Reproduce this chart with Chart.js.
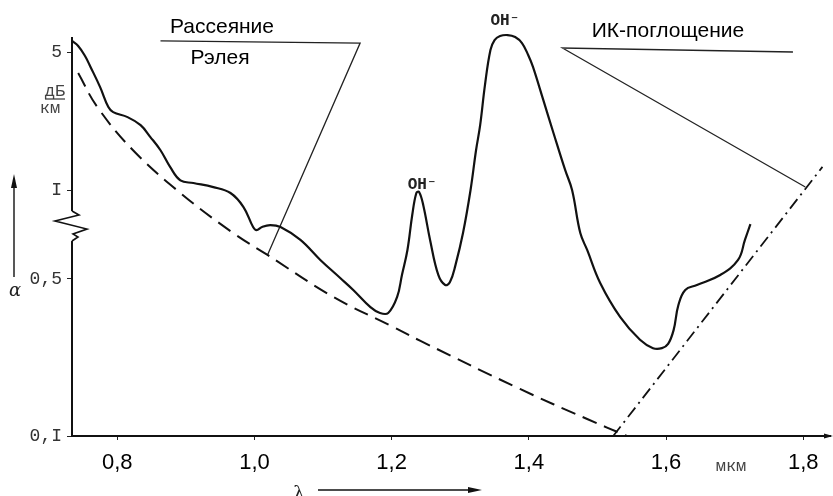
<!DOCTYPE html>
<html>
<head>
<meta charset="utf-8">
<script src="https://cdn.jsdelivr.net/npm/chart.js@4/dist/chart.umd.min.js"></script>
<style>
  body { margin: 0; background: #fff; }
  #wrap { width: 833px; height: 496px; }
</style>
</head>
<body>
<div id="wrap"><canvas id="myChart"></canvas></div>
<script>
// total loss of the fibre, dB/km
const lossX = [0.734, 0.743, 0.753, 0.761, 0.775, 0.787, 0.794, 0.815, 0.834, 0.848, 0.863, 0.877, 0.892, 0.911, 0.940,
  0.965, 0.984, 0.998, 1.003, 1.011, 1.023, 1.038, 1.067, 1.096, 1.125, 1.144, 1.169, 1.183, 1.195, 1.208,
  1.215, 1.223, 1.230, 1.236, 1.240, 1.246, 1.256, 1.268, 1.278, 1.285, 1.293, 1.304, 1.315, 1.323, 1.329,
  1.336, 1.344, 1.350, 1.358, 1.369, 1.380, 1.390, 1.399, 1.406, 1.421, 1.436, 1.453, 1.463, 1.475, 1.485,
  1.504, 1.533, 1.562, 1.581, 1.594, 1.603, 1.611, 1.618, 1.628, 1.645, 1.679, 1.705, 1.715, 1.723];
const lossY = [5.70, 5.37, 4.77, 4.20, 3.32, 2.63, 2.48, 2.34, 2.13, 1.86, 1.59, 1.31, 1.12, 1.085, 1.035,
  0.977, 0.876, 0.750, 0.732, 0.750, 0.761, 0.750, 0.678, 0.580, 0.504, 0.447, 0.375, 0.353, 0.353, 0.416,
  0.516, 0.627, 0.823, 0.977, 0.985, 0.890, 0.678, 0.516, 0.470, 0.485, 0.557, 0.715, 1.0, 1.59, 2.13,
  3.40, 5.12, 5.76, 6.04, 6.11, 5.97, 5.56, 4.83, 4.20, 2.86, 1.94, 1.26, 1.0, 0.715, 0.627,
  0.480, 0.339, 0.268, 0.246, 0.246, 0.257, 0.296, 0.383, 0.447, 0.470, 0.516, 0.580, 0.678, 0.767];

// Rayleigh scattering (dashed)
const rayleighX = [0.743, 0.771, 0.823, 0.892, 0.969, 1.019, 1.115, 1.202, 1.242, 1.387, 1.485, 1.543];
const rayleighY = [3.91, 2.63, 1.59, 0.977, 0.715, 0.603, 0.416, 0.306, 0.265, 0.162, 0.119, 0.1];

// IR absorption (dash-dot)
const irX = [1.523, 1.828];
const irY = [0.1, 1.31];

// leader lines of the two captions
const rayleighLeadX = [0.863, 1.154, 1.019];
const rayleighLeadY = [5.70, 5.56, 0.603];
const irLeadX = [1.785, 1.449, 1.803];
const irLeadY = [5.0, 5.24, 1.036];

const xTicks = [0.8, 1.0, 1.2, 1.4, 1.6, 1.8];
const xTickLabels = ['0,8', '1,0', '1,2', '1,4', '1,6', '1,8'];
const yTicks = [0.1, 0.5, 1, 5];
const yTickLabels = ['0,I', '0,5', 'I', '5'];

// the original axis is broken between 0,5 and I, so the log scale is piecewise
const yKnots = [0.1, 0.5, 1, 5, 5.9];
const yKnotPos = [0, 0.3945, 0.618, 0.9648, 1];

class BrokenLogScale extends Chart.LogarithmicScale {
  getPixelForValue(value) {
    const lk = yKnots.map(Math.log10);
    const lv = Math.log10(value);
    let i = 0;
    while (i < lk.length - 2 && lv > lk[i + 1]) i++;
    const t = (lv - lk[i]) / (lk[i + 1] - lk[i]);
    return this.getPixelForDecimal(yKnotPos[i] + t * (yKnotPos[i + 1] - yKnotPos[i]));
  }
  getValueForPixel(pixel) {
    const lk = yKnots.map(Math.log10);
    const d = this.getDecimalForPixel(pixel);
    let i = 0;
    while (i < yKnotPos.length - 2 && d > yKnotPos[i + 1]) i++;
    const t = (d - yKnotPos[i]) / (yKnotPos[i + 1] - yKnotPos[i]);
    return Math.pow(10, lk[i] + t * (lk[i + 1] - lk[i]));
  }
}
BrokenLogScale.id = 'brokenLog';
BrokenLogScale.defaults = Chart.LogarithmicScale.defaults;
Chart.register(BrokenLogScale);

const pts = (xs, ys) => xs.map((x, i) => ({ x: x, y: ys[i] }));

const sans = "'Liberation Sans', Arial, sans-serif";
const mono = "'Liberation Mono', 'DejaVu Sans Mono', monospace";

function arrowHead(ctx, x, y, dir, len, w) {
  ctx.beginPath();
  if (dir === 'up') {
    ctx.moveTo(x, y); ctx.lineTo(x - w, y + len); ctx.lineTo(x + w, y + len);
  } else {
    ctx.moveTo(x, y); ctx.lineTo(x - len, y - w); ctx.lineTo(x - len, y + w);
  }
  ctx.closePath();
  ctx.fill();
}

const decorations = {
  id: 'decorations',
  afterDraw(chart) {
    const { ctx, chartArea: { left, right, bottom }, scales: { x, y } } = chart;
    ctx.save();
    ctx.fillStyle = '#000';
    ctx.strokeStyle = '#111';

    // captions
    ctx.font = '21px ' + sans;
    ctx.textAlign = 'center';
    ctx.textBaseline = 'alphabetic';
    ctx.fillText('Рассеяние', 222, 33);
    ctx.fillText('Рэлея', 220, 64);
    ctx.fillText('ИК-поглощение', 668, 37);

    ctx.font = 'bold 16px ' + mono;
    ctx.fillStyle = '#222';
    ctx.fillText('OH⁻', x.getPixelForValue(1.365), 25);
    ctx.fillText('OH⁻', x.getPixelForValue(1.240) + 3, y.getPixelForValue(1.0) - 1);

    // units
    ctx.fillStyle = '#444';
    ctx.font = '17px ' + mono;
    ctx.fillText('мкм', 731, 471);
    ctx.fillText('дБ', 55, 96);
    ctx.fillText('км', 50, 113);
    ctx.strokeStyle = '#333';
    ctx.lineWidth = 1.2;
    ctx.beginPath(); ctx.moveTo(45, 99); ctx.lineTo(65, 99); ctx.stroke();

    // axis break on the y axis
    const yb = y.getPixelForValue(1) + 21;
    ctx.fillStyle = '#fff';
    ctx.fillRect(left - 2, yb, 4, 30);
    ctx.strokeStyle = '#111';
    ctx.lineWidth = 1.6;
    ctx.beginPath();
    ctx.moveTo(left, yb);
    ctx.lineTo(left + 7, yb + 4);
    ctx.lineTo(left - 17, yb + 10);
    ctx.lineTo(left + 15, yb + 18);
    ctx.lineTo(left + 1, yb + 23);
    ctx.lineTo(left + 6, yb + 26);
    ctx.lineTo(left, yb + 30);
    ctx.stroke();

    // x axis arrow
    ctx.fillStyle = '#111';
    arrowHead(ctx, right + 3, bottom, 'right', 9, 2.5);

    // alpha arrow
    ctx.lineWidth = 1.4;
    ctx.beginPath(); ctx.moveTo(14, 277); ctx.lineTo(14, 180); ctx.stroke();
    arrowHead(ctx, 14, 174, 'up', 14, 3);
    ctx.font = 'italic 18px ' + "'DejaVu Serif', serif";
    ctx.fillStyle = '#222';
    ctx.fillText('α', 15, 296);

    // lambda arrow
    ctx.beginPath(); ctx.moveTo(318, 490); ctx.lineTo(470, 490); ctx.stroke();
    ctx.fillStyle = '#111';
    arrowHead(ctx, 482, 490, 'right', 14, 3);
    ctx.fillStyle = '#222';
    ctx.font = '18px ' + "'DejaVu Serif', serif";
    ctx.fillText('λ', 299, 499);

    ctx.restore();
  }
};

const data = {
  datasets: [{
    label: 'Потери',
    data: pts(lossX, lossY),
    borderColor: '#111',
    borderWidth: 2.2,
    pointRadius: 0,
    tension: 0.4,
    clip: false
  }, {
    label: 'Рассеяние Рэлея',
    data: pts(rayleighX, rayleighY),
    borderColor: '#111',
    borderWidth: 2,
    borderDash: [15, 8],
    pointRadius: 0,
    tension: 0.4,
    clip: false
  }, {
    label: 'ИК-поглощение',
    data: pts(irX, irY),
    borderColor: '#111',
    borderWidth: 1.8,
    borderDash: [12, 5, 2, 5],
    pointRadius: 0,
    clip: false
  }, {
    label: 'lead1',
    data: pts(rayleighLeadX, rayleighLeadY),
    borderColor: '#222',
    borderWidth: 1.3,
    pointRadius: 0,
    tension: 0,
    clip: false
  }, {
    label: 'lead2',
    data: pts(irLeadX, irLeadY),
    borderColor: '#222',
    borderWidth: 1.3,
    pointRadius: 0,
    tension: 0,
    clip: false
  }]
};

const config = {
  type: 'line',
  data: data,
  options: {
    responsive: true,
    maintainAspectRatio: false,
    animation: false,
    events: [],
    layout: { padding: { left: 0, right: 3, top: 38, bottom: 0 } },
    plugins: { legend: { display: false }, tooltip: { enabled: false } },
    scales: {
      x: {
        type: 'linear',
        min: 0.734,
        max: 1.839,
        afterFit(s) { s.height = 60; },
        afterBuildTicks(s) { s.ticks = xTicks.map(v => ({ value: v })); },
        grid: { display: true, drawOnChartArea: false, tickLength: 4, color: '#222' },
        border: { display: true, color: '#111', width: 2 },
        ticks: {
          autoSkip: false,
          maxRotation: 0,
          padding: 10,
          color: '#000',
          font: { family: sans, size: 22 },
          callback: (v, i) => xTickLabels[i]
        }
      },
      y: {
        type: 'brokenLog',
        min: 0.1,
        max: 5.9,
        afterFit(s) { s.width = 72; },
        afterBuildTicks(s) { s.ticks = yTicks.map(v => ({ value: v })); },
        grid: { display: true, drawOnChartArea: false, tickLength: 5, color: '#222' },
        border: { display: true, color: '#111', width: 2 },
        ticks: {
          autoSkip: false,
          padding: 5,
          color: '#333',
          font: { family: mono, size: 18 },
          callback: (v, i) => yTickLabels[i]
        }
      }
    }
  },
  plugins: [decorations]
};

const myChart = new Chart(document.getElementById('myChart'), config);
</script>
</body>
</html>
